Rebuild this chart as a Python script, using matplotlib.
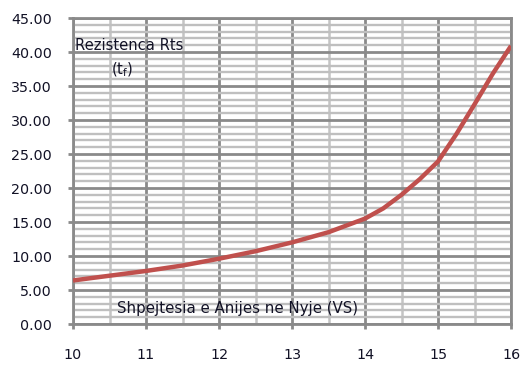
import matplotlib
matplotlib.use("Agg")
import matplotlib.pyplot as plt
from matplotlib.ticker import MultipleLocator, FormatStrFormatter

speed = [10, 10.5, 11, 11.5, 12, 12.5, 13, 13.5, 14, 14.25, 14.5, 14.75, 15, 15.25, 15.5, 15.75, 16]
resistance = [6.4, 7.1, 7.8, 8.6, 9.6, 10.7, 12.0, 13.5, 15.5, 17.0, 19.0, 21.3, 23.9, 27.9, 32.3, 36.8, 40.9]
ylabel_text = "Rezistenca Rts"
ylabel_unit = "(t$_{\\rm f}$)"
xlabel_text = "Shpejtesia e Anijes ne Nyje (VS)"

txt_color = '#121226'
plt.rcParams['font.family'] = ['DejaVu Sans']
plt.rcParams['mathtext.fontset'] = 'dejavusans'
fig = plt.figure(figsize=(5.24, 3.65), dpi=100)
ax = fig.add_axes([73/524, 1-324/365, (511-73)/524, (324-18)/365])

ax.plot(speed, resistance, color='#c0504d', lw=3.2, solid_capstyle='butt',
        solid_joinstyle='round', zorder=5)

ax.set_xlim(10, 16)
ax.set_ylim(0, 45)
ax.xaxis.set_major_locator(MultipleLocator(1))
ax.xaxis.set_minor_locator(MultipleLocator(0.5))
ax.yaxis.set_major_locator(MultipleLocator(5))
ax.yaxis.set_minor_locator(MultipleLocator(1))
ax.yaxis.set_major_formatter(FormatStrFormatter('%.2f'))

ax.grid(which='minor', axis='y', color='#bfbfbf', lw=1.7, zorder=0)
ax.grid(which='minor', axis='x', color='#c4c4c4', lw=1.8, zorder=0)
ax.grid(which='major', axis='both', color='#8a8a8a', lw=2.0, zorder=1)
ax.set_axisbelow(True)

for s in ['top', 'right', 'left', 'bottom']:
    ax.spines[s].set_color('#8a8a8a')
    ax.spines[s].set_linewidth(2.0)

ax.tick_params(which='major', direction='out', length=3.6, width=2, color='#8a8a8a',
               labelsize=10.3, labelcolor=txt_color)
ax.tick_params(which='minor', length=0)
ax.tick_params(axis='x', pad=13.5)
ax.tick_params(axis='y', pad=11.5)

fig.text(75/524, 1-45/365, ylabel_text, fontsize=10.6,
         color=txt_color, va='center', ha='left', zorder=6)
fig.text(122/524, 1-70/365, ylabel_unit, fontsize=10.6,
         color=txt_color, va='center', ha='center', zorder=6)
fig.text(238/524, 1-308/365, xlabel_text, fontsize=10.8,
         color=txt_color, va='center', ha='center', zorder=6)

fig.savefig('out.png', dpi=100)
